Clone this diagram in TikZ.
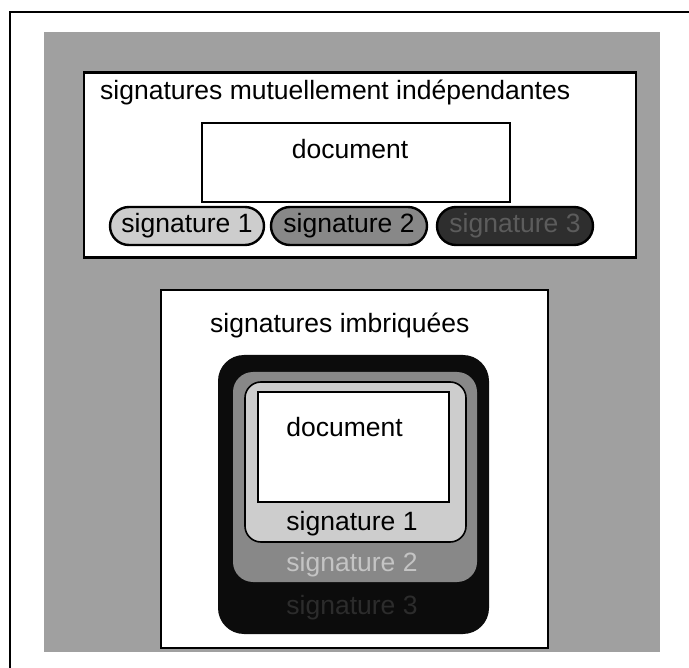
\documentclass[tikz,border=0pt]{standalone}
\usepackage{fontspec}
\setmainfont{Liberation Sans}
\usetikzlibrary{positioning}
\definecolor{bggray}{HTML}{A0A0A0}
\definecolor{lightsig}{HTML}{CDCDCD}
\definecolor{midsig}{HTML}{888888}
\definecolor{darksig}{HTML}{2E2E2E}
\definecolor{darktext}{HTML}{5C5C5C}
\definecolor{nearblack}{HTML}{0C0C0C}
\definecolor{sigtwotext}{HTML}{C4C4C4}
\definecolor{sigthreetext}{HTML}{2C2C2C}
\tikzset{
  lbl/.style={font=\fontsize{26.5}{32}\selectfont, inner sep=0pt, anchor=base},
  panel/.style={draw=black, fill=white, line width=2.6pt, inner sep=0pt},
  docbox/.style={draw=black, fill=white, line width=2pt, inner sep=0pt},
  pill/.style={draw=black, line width=2.4pt, rounded corners=19pt, inner sep=0pt,
               minimum height=38pt, font=\fontsize{26.5}{32}\selectfont},
  nest/.style={inner sep=0pt}
}
\begin{document}
\begin{tikzpicture}[x=1pt,y=-1pt]
\useasboundingbox (0,0) rectangle (689,668);
% outer frame (cut by the page edges)
\draw[line width=1.8pt] (10,668) -- (10,12) -- (689,12);
% grey background
\fill[bggray] (44,32) rectangle (660,652);

% ---- top panel: independent signatures
\node[panel, minimum width=552pt, minimum height=185pt] (top) at (360,165) {};
\node[lbl, anchor=base west] (ttop) at (100,100) {signatures mutuellement indépendantes};
\node[docbox, minimum width=308pt, minimum height=79pt] (doca) at (356,162.5) {};
\node[lbl] (docatext) at (350,159) {document};
\node[pill, fill=lightsig, minimum width=154pt] (p1) at (187,226) {signature 1};
\node[pill, fill=midsig, minimum width=156pt] (p2) at (349,226) {signature 2};
\node[pill, fill=darksig, text=darktext, minimum width=156pt] (p3) at (515,226) {signature 3};

% ---- bottom panel: nested signatures
\node[panel, minimum width=387pt, minimum height=358pt] (bot) at (354.5,469) {};
\node[lbl, anchor=base west] (tbot) at (210,333) {signatures imbriquées};
\node[nest, fill=nearblack, rounded corners=26pt, minimum width=271pt, minimum height=279pt] (s3) at (353.5,494.5) {};
\node[nest, fill=midsig, rounded corners=20pt, minimum width=244pt, minimum height=210pt] (s2) at (355,477) {};
\node[nest, draw=black, line width=1.6pt, fill=lightsig, rounded corners=16pt, minimum width=221pt, minimum height=160pt] (s1) at (355.5,462) {};
\node[docbox, minimum width=191pt, minimum height=110pt] (docb) at (353.5,447) {};
\node[lbl] (docbtext) at (344.5,437) {document};
\node[lbl] (s1text) at (352,531) {signature 1};
\node[lbl, text=sigtwotext] (s2text) at (352,572) {signature 2};
\node[lbl, text=sigthreetext] (s3text) at (352,614) {signature 3};
\end{tikzpicture}
\end{document}
